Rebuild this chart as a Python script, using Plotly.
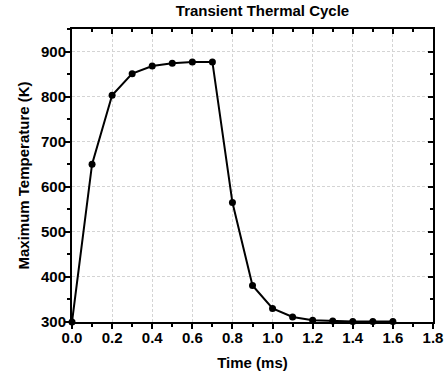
import plotly.graph_objects as go

time_ms = [0.0, 0.1, 0.2, 0.3, 0.4, 0.5, 0.6, 0.7, 0.8, 0.9, 1.0, 1.1, 1.2, 1.3, 1.4, 1.5, 1.6]
max_temp_k = [300, 650, 803, 851, 868, 874, 877, 877, 565, 381, 330, 311, 304, 302, 301, 301, 301]

x_range = [0, 1.8]
y_range = [300, 950]

fig = go.Figure()
fig.add_trace(go.Scatter(
    x=time_ms, y=max_temp_k, mode="lines+markers",
    line=dict(color="black", width=2),
    marker=dict(color="black", size=7),
    cliponaxis=False, showlegend=False,
))
# invisible trace so the mirrored top/right tick axes get drawn
fig.add_trace(go.Scatter(
    x=time_ms, y=max_temp_k, xaxis="x2", yaxis="y2", mode="markers",
    marker=dict(color="rgba(0,0,0,0)"), hoverinfo="skip", showlegend=False,
))

font_family = "Liberation Sans, Arial, sans-serif"
tickfont = dict(family=font_family, size=15, color="black", weight="bold")
grid = dict(showgrid=True, gridcolor="#d4d4d4", griddash="3px,2px", gridwidth=1)

fig.update_layout(
    xaxis=dict(
        range=x_range, dtick=0.2, tick0=0, tickformat=".1f", automargin=False,
        showline=True, linecolor="black", linewidth=2, mirror=True,
        ticks="outside", ticklen=5, tickwidth=2, tickcolor="black", ticklabelstandoff=-4,
        minor=dict(ticks="outside", ticklen=3, tickwidth=2, tickcolor="black", dtick=0.1, showgrid=False),
        zeroline=False, tickfont=tickfont, **grid,
        title=dict(text="<b>Time (ms)</b>", font=dict(family=font_family, size=15, color="black"), standoff=12),
    ),
    yaxis=dict(
        range=y_range, dtick=100, tick0=300, automargin=False,
        showline=True, linecolor="black", linewidth=2, mirror=True,
        ticks="outside", ticklen=5, tickwidth=2, tickcolor="black", ticklabelstandoff=-4,
        minor=dict(ticks="outside", ticklen=3, tickwidth=2, tickcolor="black", dtick=50, showgrid=False),
        zeroline=False, tickfont=tickfont, **grid,
        title=dict(text="<b>Maximum Temperature (K)</b>", font=dict(family=font_family, size=15, color="black"), standoff=8),
    ),
    xaxis2=dict(
        overlaying="x", side="top", anchor="y", range=x_range, dtick=0.2, tick0=0,
        ticks="inside", ticklen=5, tickwidth=2, tickcolor="black",
        minor=dict(ticks="inside", ticklen=3, tickwidth=2, tickcolor="black", dtick=0.1, showgrid=False),
        showticklabels=False, showgrid=False, showline=False, zeroline=False,
    ),
    yaxis2=dict(
        overlaying="y", side="right", anchor="x", range=y_range, dtick=100, tick0=300,
        ticks="inside", ticklen=5, tickwidth=2, tickcolor="black",
        minor=dict(ticks="inside", ticklen=3, tickwidth=2, tickcolor="black", dtick=50, showgrid=False),
        showticklabels=False, showgrid=False, showline=False, zeroline=False,
    ),
    width=445, height=377,
    margin=dict(l=72, r=12, t=29, b=55, autoexpand=False),
    paper_bgcolor="white", plot_bgcolor="white",
    title=dict(text="<b>Transient Thermal Cycle</b>", x=262.5 / 445, xanchor="center", y=0.985, yanchor="top",
               font=dict(family=font_family, size=15, color="black")),
)

fig.write_html("out.html", config={"displayModeBar": False},
               post_script="document.body.style.margin='0';")
